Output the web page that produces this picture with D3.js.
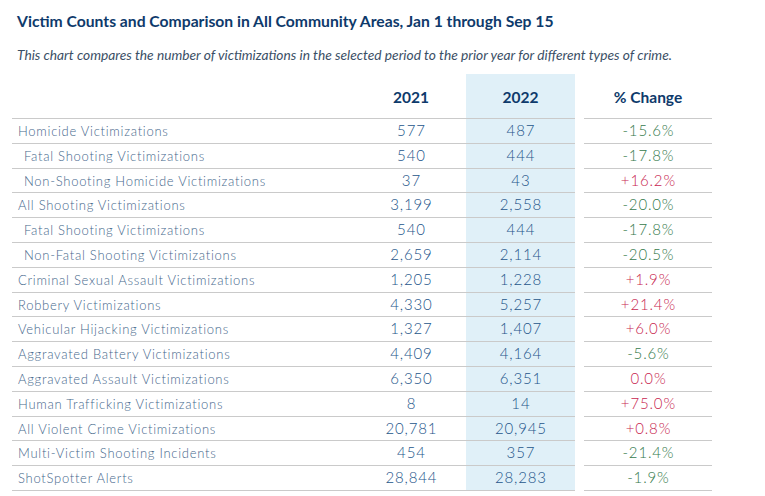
<!DOCTYPE html>
<html><head><meta charset="utf-8">
<script src="https://cdn.jsdelivr.net/npm/d3@7"></script>
<style>
html,body{margin:0;padding:0;background:#fff;}
svg{display:block;}
text{font-family:Lato,"Open Sans",sans-serif;}
</style></head>
<body><svg id="c" width="765" height="496"></svg>
<script>
const title = "Victim Counts and Comparison in All Community Areas, Jan 1 through Sep 15";
const subtitle = "This chart compares the number of victimizations in the selected period to the prior year for different types of crime.";
const columns = ["2021", "2022", "% Change"];
const categories = [
  "Homicide Victimizations",
  "Fatal Shooting Victimizations",
  "Non-Shooting Homicide Victimizations",
  "All Shooting Victimizations",
  "Fatal Shooting Victimizations",
  "Non-Fatal Shooting Victimizations",
  "Criminal Sexual Assault Victimizations",
  "Robbery Victimizations",
  "Vehicular Hijacking Victimizations",
  "Aggravated Battery Victimizations",
  "Aggravated Assault Victimizations",
  "Human Trafficking Victimizations",
  "All Violent Crime Victimizations",
  "Multi-Victim Shooting Incidents",
  "ShotSpotter Alerts"
];
const indented = [false,true,true,false,true,true,false,false,false,false,false,false,false,false,false];
const values2021 = [577,540,37,3199,540,2659,1205,4330,1327,4409,6350,8,20781,454,28844];
const values2022 = [487,444,43,2558,444,2114,1228,5257,1407,4164,6351,14,20945,357,28283];
const pctChange = [-15.6,-17.8,16.2,-20.0,-17.8,-20.5,1.9,21.4,6.0,-5.6,0.0,75.0,0.8,-21.4,-1.9];

const svg = d3.select("#c");
const navy = "#0e3a6b", numC = "#24558a", labC = "#46688c";
const green = "#347a4b", red = "#c8264f", lineC = "#cacaca", bg = "#e0f0f8";

function measure(txt, attrs){
  const tmp = svg.append("text").text(txt);
  Object.entries(attrs).forEach(([k,v])=>tmp.attr(k,v));
  const w = tmp.node().getComputedTextLength(); tmp.remove(); return w;
}
function fitSize(txt, attrs, w, base){ return +(base*w/measure(txt, Object.assign({"font-size":base},attrs))).toFixed(2); }
function spacing(txt, attrs, w){ return ((w - measure(txt, attrs))/txt.length).toFixed(3); }

const tSize = fitSize(title, {"font-weight":"bold"}, 537, 15);
svg.append("text").attr("x",17).attr("y",27).attr("font-size",tSize).attr("font-weight","bold").attr("fill",navy).text(title);
const sSize = fitSize(subtitle, {"font-style":"italic"}, 655, 11);
svg.append("text").attr("x",17).attr("y",60).attr("font-size",sSize).attr("font-style","italic").attr("fill","#3b4f66").text(subtitle);

const labAttrs = {"font-size":13, "font-weight":300};
const labLS = spacing(categories[0], labAttrs, 151);
const numAttrs = {"font-size":15, "font-weight":300};
const numLS = spacing("28,844", numAttrs, 52);
const pctLS = spacing("-15.6%", numAttrs, 52);

const y = d3.scaleBand().domain(d3.range(categories.length)).range([118, 490]).padding(0);
const x = d3.scaleOrdinal().domain(columns).range([411, 520.5, 648]);

// 2022 highlight column
svg.append("rect").attr("x",466).attr("y",74).attr("width",109).attr("height",490-74).attr("fill",bg);

// headers
columns.forEach(c=>{
  svg.append("text").attr("x",x(c)).attr("y",103).attr("text-anchor","middle").attr("font-size",15.5).attr("font-weight","bold").attr("fill",navy).text(c);
});

// row lines
const lines = d3.range(categories.length+1).map(i => i<categories.length ? y(i) : y.range()[1]);
svg.selectAll("line.l").data(lines).join("line").attr("x1",12).attr("x2",575).attr("y1",d=>Math.round(d)+0.5).attr("y2",d=>Math.round(d)+0.5).attr("stroke",lineC).attr("stroke-width",1);
svg.selectAll("line.r").data(lines).join("line").attr("x1",584).attr("x2",712).attr("y1",d=>Math.round(d)+0.5).attr("y2",d=>Math.round(d)+0.5).attr("stroke",lineC).attr("stroke-width",1);

const fmt = d3.format(",");
const rows = svg.selectAll("g.row").data(categories).join("g").attr("transform",(d,i)=>`translate(0,${y(i)+y.bandwidth()/2+5.5})`);
function numText(g, cx, ls, fill, fn){
  g.append("text").attr("x",cx + ls/2).attr("text-anchor","middle").attr("font-size",numAttrs["font-size"]).attr("font-weight",300)
   .style("letter-spacing",ls+"px").attr("fill",fill).text(fn);
}
rows.append("text").attr("x",(d,i)=>indented[i]?24:18).attr("font-size",labAttrs["font-size"]).attr("font-weight",300)
  .style("letter-spacing",labLS+"px").attr("fill",labC).text(d=>d);
numText(rows, x("2021"), +numLS, numC, (d,i)=>fmt(values2021[i]));
numText(rows, x("2022"), +numLS, numC, (d,i)=>fmt(values2022[i]));
numText(rows, x("% Change"), +pctLS, (d,i)=>pctChange[i]<0?green:red, (d,i)=>(pctChange[i]>0?"+":"")+pctChange[i].toFixed(1)+"%");
</script></body></html>
